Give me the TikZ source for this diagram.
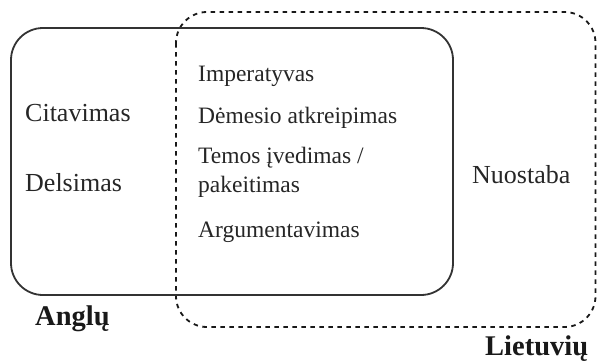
\documentclass[tikz,border=0pt]{standalone}
\usepackage{fontspec}
\setmainfont{Liberation Serif}
\begin{document}
\begin{tikzpicture}[x=1pt,y=-1pt,
  setbox/.style={draw=black!80,line width=1.8pt,rounded corners=32pt},
  dashbox/.style={draw=black!90,line width=1.8pt,dash pattern=on 4.5pt off 4.5pt,rounded corners=31pt},
  side/.style={anchor=base west,inner sep=0pt,font=\fontsize{26}{30}\selectfont,text=black!85},
  mid/.style={anchor=base west,inner sep=0pt,font=\fontsize{23.5}{29}\selectfont,text=black!85},
  title/.style={anchor=base west,inner sep=0pt,font=\fontsize{28.5}{34}\selectfont\bfseries,text=black!90}]
\useasboundingbox (0,0) rectangle (597,362);
\draw[dashbox] (176,12) rectangle (595.5,327);
\draw[setbox] (11,28) rectangle (453,295);
\node[side] (cit) at (25,121) {Citavimas};
\node[side] (del) at (25,191) {Delsimas};
\node[mid] (imp) at (198,81) {Imperatyvas};
\node[mid] (dem) at (198,123) {Dėmesio atkreipimas};
\node[mid] (tem) at (198,163) {Temos įvedimas /};
\node[mid] (pak) at (198,192) {pakeitimas};
\node[mid] (arg) at (198,237) {Argumentavimas};
\node[side] (nuo) at (472,183) {Nuostaba};
\node[title] (ang) at (35,325) {Anglų};
\node[title] (lie) at (485,355) {Lietuvių};
\end{tikzpicture}
\end{document}
